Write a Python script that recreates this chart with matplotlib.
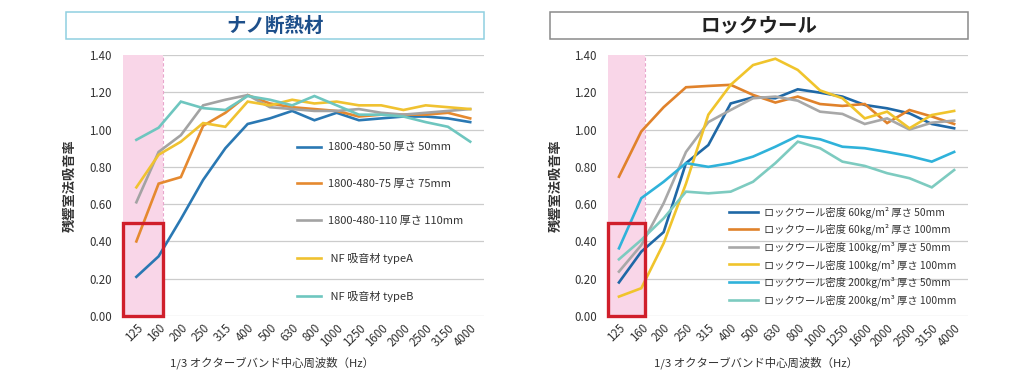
import matplotlib
matplotlib.use("Agg")
import matplotlib.pyplot as plt
from matplotlib.patches import Rectangle

plt.rcParams['font.family'] = ['Noto Sans CJK JP', 'DejaVu Sans']

freqs = ["125", "160", "200", "250", "315", "400", "500", "630", "800",
         "1000", "1250", "1600", "2000", "2500", "3150", "4000"]
yticks = [0.0, 0.2, 0.4, 0.6, 0.8, 1.0, 1.2, 1.4]
ytick_labels = ["0.00", "0.20", "0.40", "0.60", "0.80", "1.00", "1.20", "1.40"]

# Left chart: ナノ断熱材
left_title = "ナノ断熱材"
left_labels = ["1800-480-50 厚さ 50mm", "1800-480-75 厚さ 75mm",
               "1800-480-110 厚さ 110mm", " NF 吸音材 typeA", " NF 吸音材 typeB"]
nano_50 = [0.21, 0.32, 0.52, 0.73, 0.90, 1.03, 1.06, 1.10, 1.05, 1.09, 1.05, 1.06, 1.07, 1.07, 1.06, 1.04]
nano_75 = [0.40, 0.71, 0.745, 1.02, 1.09, 1.185, 1.14, 1.12, 1.11, 1.10, 1.07, 1.08, 1.08, 1.08, 1.09, 1.06]
nano_110 = [0.61, 0.88, 0.97, 1.13, 1.16, 1.185, 1.12, 1.11, 1.10, 1.10, 1.11, 1.09, 1.08, 1.09, 1.10, 1.11]
nf_a = [0.69, 0.865, 0.935, 1.035, 1.015, 1.15, 1.13, 1.16, 1.14, 1.15, 1.13, 1.13, 1.105, 1.13, 1.12, 1.11]
nf_b = [0.945, 1.01, 1.15, 1.115, 1.105, 1.18, 1.16, 1.13, 1.18, 1.13, 1.08, 1.08, 1.07, 1.04, 1.015, 0.935]
left_series = [nano_50, nano_75, nano_110, nf_a, nf_b]
left_colors = ["#2a78b3", "#e5892f", "#a3a3a3", "#f0c230", "#6ec6bf"]

# Right chart: ロックウール
right_title = "ロックウール"
right_labels = ["ロックウール密度 60kg/m² 厚さ 50mm", "ロックウール密度 60kg/m² 厚さ 100mm",
                "ロックウール密度 100kg/m³ 厚さ 50mm", "ロックウール密度 100kg/m³ 厚さ 100mm",
                "ロックウール密度 200kg/m³ 厚さ 50mm", "ロックウール密度 200kg/m³ 厚さ 100mm"]
rw60_50 = [0.18, 0.345, 0.45, 0.82, 0.917, 1.14, 1.173, 1.168, 1.216, 1.198, 1.177, 1.132, 1.114, 1.087, 1.03, 1.007]
rw60_100 = [0.747, 0.99, 1.12, 1.227, 1.234, 1.24, 1.186, 1.145, 1.177, 1.137, 1.127, 1.137, 1.035, 1.105, 1.07, 1.03]
rw100_50 = [0.238, 0.38, 0.605, 0.88, 1.04, 1.105, 1.168, 1.177, 1.155, 1.096, 1.084, 1.03, 1.06, 1.00, 1.037, 1.048]
rw100_100 = [0.104, 0.149, 0.39, 0.71, 1.08, 1.24, 1.346, 1.38, 1.32, 1.21, 1.168, 1.06, 1.096, 1.007, 1.078, 1.10]
rw200_50 = [0.363, 0.632, 0.72, 0.82, 0.80, 0.82, 0.855, 0.908, 0.966, 0.948, 0.908, 0.90, 0.88, 0.858, 0.828, 0.88]
rw200_100 = [0.304, 0.408, 0.524, 0.667, 0.658, 0.667, 0.72, 0.82, 0.935, 0.90, 0.828, 0.805, 0.766, 0.739, 0.69, 0.783]
right_series = [rw60_50, rw60_100, rw100_50, rw100_100, rw200_50, rw200_100]
right_colors = ["#1f68a6", "#e0822b", "#a8a8a8", "#f0c42c", "#2fb2da", "#7dcbc0"]

ylabel = "残響室法吸音率"
xlabel = "1/3 オクターブバンド中心周波数（Hz）"

W, H = 1024, 371
fig = plt.figure(figsize=(W / 100, H / 100), dpi=100)
fig.patch.set_facecolor("white")


def fx(px):
    return px / W


def fy(py):
    return 1 - py / H


def make_axes(left_px, right_px, xmin, series, colors, labels, title, title_color,
              box_left, box_right, box_color, ylabel_x, leg_anchor, leg_kw, xlab_x):
    ax = fig.add_axes([fx(left_px), fy(316), fx(right_px - left_px), (316 - 55) / H])
    x = list(range(len(freqs)))
    xmax = 15.62
    ax.set_xlim(xmin, xmax)
    ax.set_ylim(0, 1.4)
    ax.set_yticks(yticks)
    ax.set_yticklabels(ytick_labels)
    ax.set_xticks(x)
    ax.set_xticklabels(freqs, rotation=45, ha="right", rotation_mode="anchor")
    ax.tick_params(axis="both", length=0, labelsize=8.3, colors="#333333")
    ax.tick_params(axis="y", pad=8)
    ax.tick_params(axis="x", pad=4)
    for s in ax.spines.values():
        s.set_visible(False)
    ax.grid(axis="y", color="#cccccc", lw=0.9, zorder=0.5)
    ax.set_axisbelow(True)
    # highlighted low-frequency zone
    pink_right = 1.18
    ax.axvspan(xmin, pink_right, color="#f9d6e8", lw=0, zorder=1)
    ax.axvline(pink_right, color="#e8a6cc", lw=0.8, ls=(0, (3, 2)), zorder=1.1)
    for vals, c, lab in zip(series, colors, labels):
        ax.plot(x, vals, color=c, lw=1.9, label=lab, zorder=2, solid_joinstyle="miter")
    ax.add_patch(Rectangle((xmin + 0.02, 0.0), pink_right - xmin - 0.02, 0.5, fill=False,
                           edgecolor="#d01f2b", lw=2.4, zorder=3, clip_on=False))
    leg = ax.legend(loc="upper left", bbox_to_anchor=leg_anchor, frameon=False,
                    borderpad=0, borderaxespad=0, **leg_kw)
    for t in leg.get_texts():
        t.set_color("#333333")
    ax.set_xlabel(xlabel, fontsize=8.2, color="#333333", va="center")
    ax.xaxis.set_label_coords(xlab_x, -0.178)
    fig.text(fx(ylabel_x), fy(186), ylabel, rotation=90, ha="center", va="center",
             fontsize=9.5, fontweight="bold", color="#333333")
    fig.patches.append(Rectangle((fx(box_left), fy(39)), fx(box_right - box_left), (39 - 12) / H,
                                 transform=fig.transFigure, fill=False,
                                 edgecolor=box_color, lw=1.1))
    fig.text(fx((box_left + box_right) / 2), fy(26), title, ha="center", va="center",
             fontsize=14, fontweight="bold", color=title_color)
    return ax


make_axes(123, 484, -0.6, left_series, left_colors, left_labels, left_title, "#1d4f8a",
          66, 484, "#8fd0e0", 70, (0.482, 0.665),
          dict(fontsize=8, labelspacing=2.42, handlelength=2.15, handletextpad=0.65), 0.413)
make_axes(608, 968, -0.49, right_series, right_colors, right_labels, right_title, "#222222",
          550, 968, "#8a8a8a", 556, (0.337, 0.42),
          dict(fontsize=7.4, labelspacing=0.59, handlelength=2.82, handletextpad=0.58), 0.41)

fig.savefig("out.png", dpi=100)
